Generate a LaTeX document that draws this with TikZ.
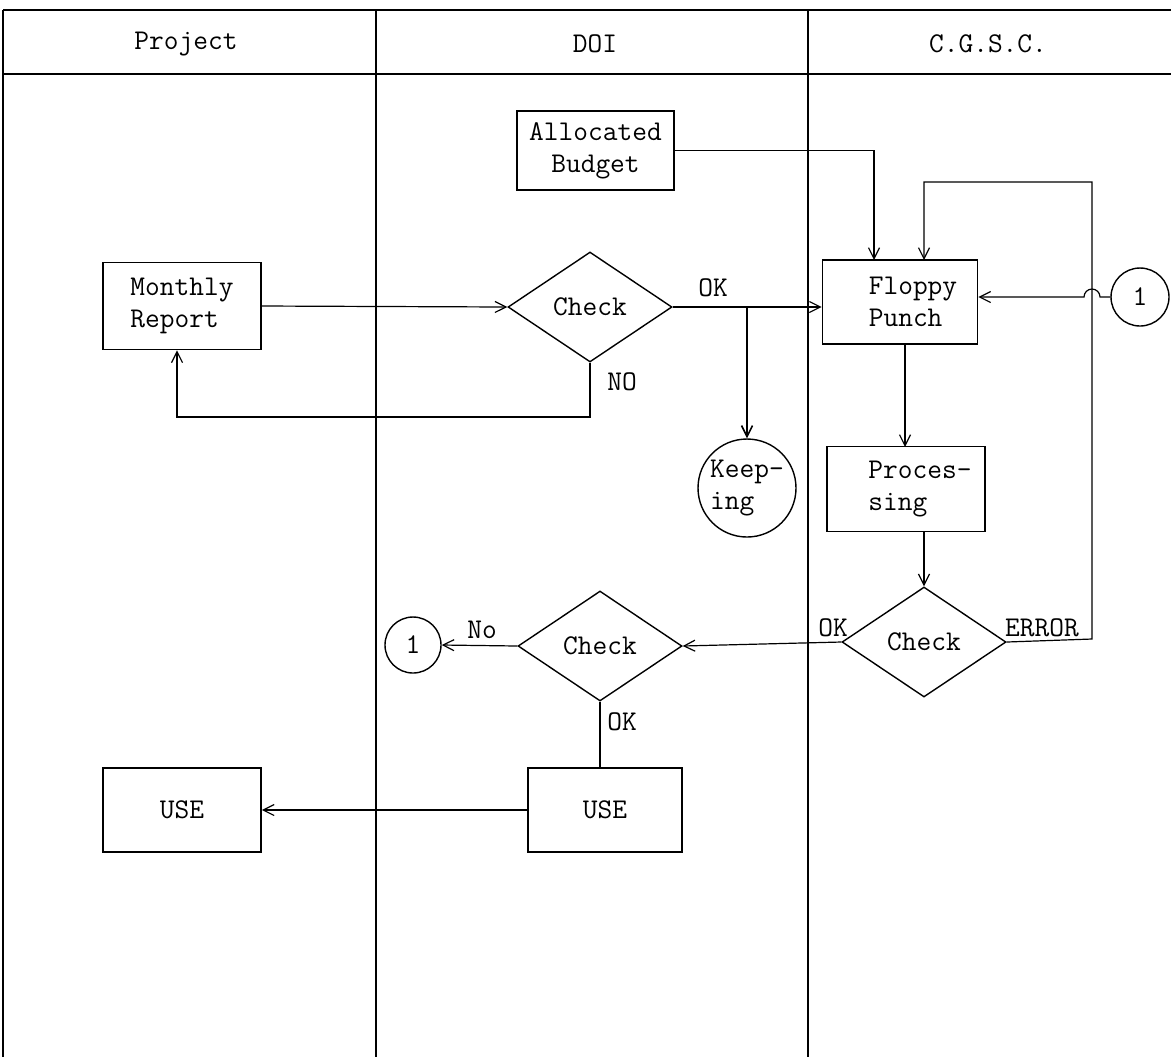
\documentclass[tikz,border=0pt]{standalone}
\usetikzlibrary{shapes.geometric,arrows.meta}
\begin{document}
\begin{tikzpicture}[x=0.5pt,y=-0.5pt,
  every node/.style={font=\ttfamily\fontsize{14.3}{16}\selectfont, inner sep=1pt},
  frame/.style={line width=1pt},
  conn/.style={line width=0.6pt},
  arr/.style={conn,-{Straight Barb[length=5.5pt,width=5.5pt]}},
  box/.style={draw,line width=0.8pt,minimum width=79pt,minimum height=42pt,align=left},
  dec/.style={draw,diamond,line width=0.7pt,minimum width=82pt,minimum height=55pt,inner sep=0pt},
  conncirc/.style={draw,circle,line width=0.7pt,minimum size=29pt,inner sep=0pt},
  lbl/.style={inner sep=0pt}]
\useasboundingbox (0,0) rectangle (1171,1057);
% frame
\draw[frame] (3,10) -- (1171,10);
\draw[frame] (3,74) -- (1171,74);
\draw[frame] (3,10) -- (3,1057);
\draw[frame] (376,10) -- (376,1057);
\draw[frame] (808,10) -- (808,1057);
\node (hp) at (186,44) {Project};
\node (hd) at (595,44) {DOI};
\node (hc) at (988,44) {C.G.S.C.};
% nodes
\node[box,minimum width=78.5pt,minimum height=39.5pt,align=center] (ab) at (595.5,150.5) {Allocated\\Budget};
\node[box,minimum width=79pt,minimum height=43.5pt] (mr) at (182,306) {Monthly\\Report};
\node[dec] (c1) at (590,307) {Check};
\node[box,minimum width=77.5pt,minimum height=42pt] (fp) at (900,302) {\hspace*{13pt}Floppy\\\hspace*{13pt}Punch};
\node[conncirc] (o1) at (1140,297) {1};
\node[circle,draw,line width=0.7pt,minimum size=49pt,inner sep=0pt,align=left] (kp) at (747,488) {Keep-\\ing};
\node[box,minimum width=79pt,minimum height=42.5pt] (pr) at (906,489) {\hspace*{14pt}Proces-\\\hspace*{14pt}sing};
\node[dec] (c2) at (924,642) {Check};
\node[dec] (c3) at (600,646) {Check};
\node[conncirc,minimum size=28pt] (o2) at (413,645) {1};
\node[box,minimum width=77pt,minimum height=42pt,align=center] (u2) at (605,810) {USE};
\node[box,minimum width=79pt,minimum height=42pt,align=center] (u1) at (182,810) {USE};
% labels
\node[lbl] (lok1) at (713,288) {OK};
\node[lbl] (lno1) at (622,382) {NO};
\node[lbl] (lok2) at (833,628) {OK};
\node[lbl] (ler) at (1042,628) {ERROR};
\node[lbl] (lno2) at (482,630) {No};
\node[lbl] (lok3) at (622,722) {OK};
% helper coordinates
\coordinate (br) at (747,307);
\coordinate (hop) at (1100,297);
% connectors
\draw[arr] (ab.east) -| (874,260);
\draw[arr] (mr.east) -- (c1.west);
\draw[arr] (c1.east) -- (fp.west |- c1.east);
\draw[arr,line width=0.8pt] (br) -- (kp.north);
\draw[arr] (c1.south) -- (590,417) -| (mr.south -| 177,0);
\draw[arr] (c2.east) -- (1092,639) -- (1092,182) -- (924,182) -- (924,260);
\draw[arr] (o1.west) -- (hop) arc[start angle=0,end angle=180,radius=4pt] -- (fp.east |- o1.west);
\draw[arr] (fp.south -| 905,0) -- (905,447);
\draw[arr] (924,532) -- (c2.north);
\draw[arr] (c2.west) -- (c3.east);
\draw[arr] (c3.west) -- (o2.east);
\draw[conn] (c3.south) -- (u2.north -| c3.south);
\draw[arr] (u2.west) -- (u1.east);
\end{tikzpicture}
\end{document}
